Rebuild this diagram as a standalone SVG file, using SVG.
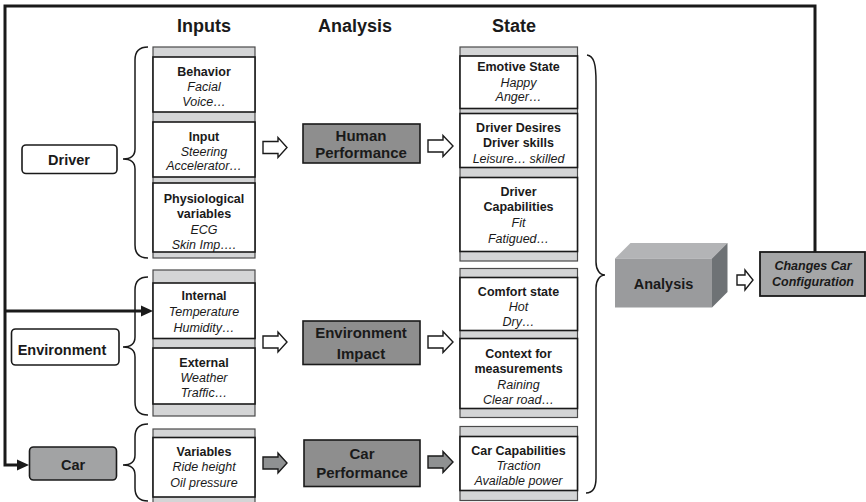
<svg xmlns="http://www.w3.org/2000/svg" width="866" height="502" viewBox="0 0 866 502">
  <style>
    .bg { fill: #ffffff; }
    .strip { fill: #d4d5d6; stroke: #4a4a4a; stroke-width: 1.2; }
    .cell { fill: #ffffff; stroke: #1a1a1a; stroke-width: 1.6; }
    .proc { fill: #8e8e8e; stroke: #1a1a1a; stroke-width: 1.6; }
    .ent { fill: #ffffff; stroke: #1a1a1a; stroke-width: 1.6; }
    .ent-car { fill: #a2a3a4; stroke: #1a1a1a; stroke-width: 1.6; }
    .brace { fill: none; stroke: #1a1a1a; stroke-width: 1.5; }
    .flow { fill: none; stroke: #1a1a1a; stroke-width: 3; }
    .harrow { fill: #ffffff; stroke: #1a1a1a; stroke-width: 1.4; stroke-linejoin: miter; }
    .garrow { fill: #8f9192; stroke: #1a1a1a; stroke-width: 1.4; stroke-linejoin: miter; }
    text { font-family: "Liberation Sans", Arial, sans-serif; fill: #1a1a1a; text-anchor: middle; }
    .hdr { font-size: 18px; font-weight: bold; }
    .b { font-size: 12.5px; font-weight: bold; }
    .i { font-size: 12.5px; font-style: italic; }
    .pt { font-size: 15px; font-weight: bold; }
    .et { font-size: 14.5px; font-weight: bold; }
    .bi { font-size: 12.5px; font-weight: bold; font-style: italic; }
  </style>
  <defs>
    <marker id="tri" markerUnits="userSpaceOnUse" markerWidth="13" markerHeight="12" viewBox="0 0 13 12" refX="0" refY="6" orient="auto">
      <path d="M0,0.5 L12,6 L0,11.5 Z" fill="#1a1a1a"/>
    </marker>
  </defs>

  <rect class="bg" x="0" y="0" width="866" height="502"/>

  <!-- column headers -->
  <g id="headers">
    <text class="hdr" x="204" y="32">Inputs</text>
    <text class="hdr" x="355" y="32">Analysis</text>
    <text class="hdr" x="514" y="32">State</text>
  </g>

  <!-- feedback connectors and braces -->
  <g id="connectors">
    <path class="flow" d="M815,252 V6 H5 V465 H17" marker-end="url(#tri)"/>
    <path class="flow" d="M5,311 H141" marker-end="url(#tri)"/>

    <path class="brace" d="M148,47 C139,47 135,51 135,60 V149 C135,155 131,159 123,159 C131,159 135,163 135,169 V245 C135,254 139,258 148,258"/>
    <path class="brace" d="M148,277 C139,277 135,281 135,290 V337 C135,343 131,347 123,347 C131,347 135,351 135,357 V402 C135,411 139,415 148,415"/>
    <path class="brace" d="M148,424 C139,424 135,428 135,437 V455 C135,461 131,465 123,465 C131,465 135,469 135,475 V488 C135,497 139,501 148,501"/>
    <path class="brace" d="M587,55 C594,56 596,64 596,82 V262 C596,270 600,275 605,275 C600,275 596,280 596,288 V478 C596,488 593,493 586,493"/>

    <!-- inputs to analysis -->
    <path class="harrow" d="M263,141.5 H278 V137.5 L287,147.5 L278,157.5 V153.5 H263 Z"/>
    <path class="harrow" d="M263,336 H278 V332 L287,342 L278,352 V348 H263 Z"/>
    <path class="garrow" d="M263,457 H278 V453 L287,463 L278,473 V469 H263 Z"/>
    <!-- analysis to state -->
    <path class="harrow" d="M428,140 H443 V135.5 L453,146 L443,156.5 V152 H428 Z"/>
    <path class="harrow" d="M428,336 H443 V331.5 L453,342 L443,352.5 V348 H428 Z"/>
    <path class="garrow" d="M428,456 H443 V451.5 L453,462 L443,472.5 V468 H428 Z"/>
    <!-- analysis to configuration -->
    <path class="harrow" d="M737,275 H745 V270 L753,280 L745,290 V285 H737 Z"/>
  </g>

  <!-- entities -->
  <g id="driver">
    <rect class="ent" x="22" y="145" width="95" height="28.5" rx="4"/>
    <text class="et" x="69" y="164.5">Driver</text>
  </g>
  <g id="environment">
    <rect class="ent" x="11.5" y="329" width="107.5" height="36" rx="4"/>
    <text class="et" x="62" y="355">Environment</text>
  </g>
  <g id="car">
    <rect class="ent-car" x="29.5" y="447" width="87" height="33" rx="4"/>
    <text class="et" x="73" y="470">Car</text>
  </g>

  <!-- input columns -->
  <g id="driver-inputs">
    <rect class="strip" x="153" y="47" width="102" height="211"/>
    <rect class="cell" x="153" y="57" width="102" height="55"/>
    <rect class="cell" x="153" y="122" width="102" height="55"/>
    <rect class="cell" x="153" y="183" width="102" height="69"/>
    <text class="b" x="204" y="75.5">Behavior</text>
    <text class="i" x="204" y="90.5">Facial</text>
    <text class="i" x="204" y="106">Voice…</text>
    <text class="b" x="204" y="141">Input</text>
    <text class="i" x="204" y="155.5">Steering</text>
    <text class="i" x="204" y="170">Accelerator…</text>
    <text class="b" x="204" y="202.5">Physiological</text>
    <text class="b" x="204" y="218">variables</text>
    <text class="i" x="204" y="233.5">ECG</text>
    <text class="i" x="204" y="248.5">Skin Imp….</text>
  </g>
  <g id="environment-inputs">
    <rect class="strip" x="153" y="270" width="102" height="146"/>
    <rect class="cell" x="153" y="283" width="102" height="55.5"/>
    <rect class="cell" x="153" y="348" width="102" height="56"/>
    <text class="b" x="204" y="300">Internal</text>
    <text class="i" x="204" y="316">Temperature</text>
    <text class="i" x="204" y="331.5">Humidity…</text>
    <text class="b" x="204" y="367">External</text>
    <text class="i" x="204" y="382">Weather</text>
    <text class="i" x="204" y="397">Traffic…</text>
  </g>
  <g id="car-inputs">
    <rect class="strip" x="153" y="429" width="102" height="80"/>
    <rect class="cell" x="153" y="437.5" width="102" height="59.5"/>
    <text class="b" x="204" y="456">Variables</text>
    <text class="i" x="204" y="471">Ride height</text>
    <text class="i" x="204" y="486.5">Oil pressure</text>
  </g>

  <!-- analysis blocks -->
  <g id="human-performance">
    <rect class="proc" x="303" y="124" width="117" height="39"/>
    <text class="pt" x="361" y="141">Human</text>
    <text class="pt" x="361" y="158">Performance</text>
  </g>
  <g id="environment-impact">
    <rect class="proc" x="303" y="321" width="117" height="43.5"/>
    <text class="pt" x="361" y="338">Environment</text>
    <text class="pt" x="361" y="358.5">Impact</text>
  </g>
  <g id="car-performance">
    <rect class="proc" x="304" y="440" width="116" height="46.5"/>
    <text class="pt" x="362" y="458.5">Car</text>
    <text class="pt" x="362" y="478">Performance</text>
  </g>

  <!-- state columns -->
  <g id="driver-state">
    <rect class="strip" x="460" y="47" width="117.5" height="214"/>
    <rect class="cell" x="460" y="56" width="117.5" height="52.5"/>
    <rect class="cell" x="460" y="113.5" width="117.5" height="54"/>
    <rect class="cell" x="460" y="177.5" width="117.5" height="74"/>
    <text class="b" x="518.5" y="71">Emotive State</text>
    <text class="i" x="518.5" y="87">Happy</text>
    <text class="i" x="518.5" y="101">Anger…</text>
    <text class="b" x="518.5" y="132">Driver Desires</text>
    <text class="b" x="518.5" y="147">Driver skills</text>
    <text class="i" x="518.5" y="163">Leisure… skilled</text>
    <text class="b" x="518.5" y="196">Driver</text>
    <text class="b" x="518.5" y="211">Capabilities</text>
    <text class="i" x="518.5" y="227">Fit</text>
    <text class="i" x="518.5" y="243">Fatigued…</text>
  </g>
  <g id="environment-state">
    <rect class="strip" x="460" y="268.5" width="117.5" height="149"/>
    <rect class="cell" x="460" y="277.5" width="117.5" height="53"/>
    <rect class="cell" x="460" y="338.5" width="117.5" height="70"/>
    <text class="b" x="518.5" y="296">Comfort state</text>
    <text class="i" x="518.5" y="311">Hot</text>
    <text class="i" x="518.5" y="326">Dry…</text>
    <text class="b" x="518.5" y="358">Context for</text>
    <text class="b" x="518.5" y="372.5">measurements</text>
    <text class="i" x="518.5" y="388.5">Raining</text>
    <text class="i" x="518.5" y="403.5">Clear road…</text>
  </g>
  <g id="car-state">
    <rect class="strip" x="460" y="426.5" width="117.5" height="74"/>
    <rect class="cell" x="460" y="436.5" width="117.5" height="54"/>
    <text class="b" x="518.5" y="454.5">Car Capabilities</text>
    <text class="i" x="518.5" y="470">Traction</text>
    <text class="i" x="518.5" y="485">Available power</text>
  </g>

  <!-- overall analysis block drawn as a solid box -->
  <g id="analysis">
    <polygon points="615,258.5 630.5,243 727.5,243 712,258.5" fill="#b3b4b6"/>
    <polygon points="712,258.5 727.5,243 727.5,292 712,307.5" fill="#6e7275"/>
    <rect x="615" y="258.5" width="97" height="49" fill="#9a9b9d"/>
    <text class="et" x="663.5" y="289">Analysis</text>
  </g>

  <g id="changes-config">
    <rect x="760" y="252" width="105" height="44" fill="#a5a6a7" stroke="#1a1a1a" stroke-width="1.8"/>
    <text class="bi" x="813" y="270">Changes Car</text>
    <text class="bi" x="813" y="285.5">Configuration</text>
  </g>
</svg>
